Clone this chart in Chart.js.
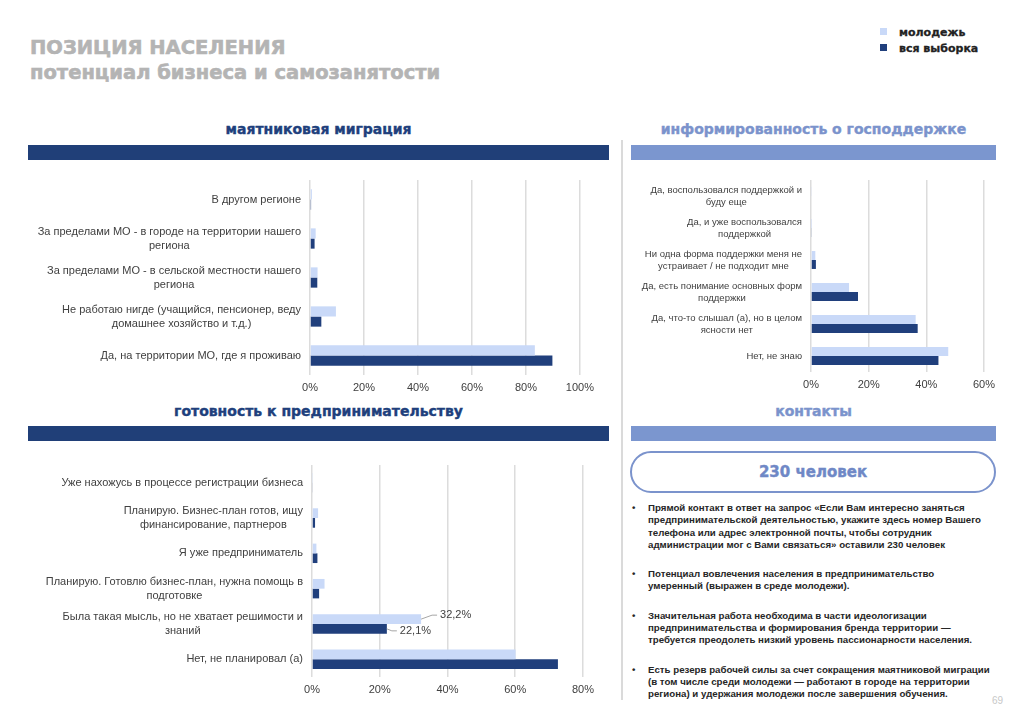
<!DOCTYPE html>
<html>
<head>
<meta charset="utf-8">
<script src="https://cdn.jsdelivr.net/npm/chart.js@4"></script>
<style>
  body { margin: 0; background: #fff; width: 1024px; height: 724px; position: relative; overflow: hidden; font-family: "Liberation Sans", Arial, sans-serif; }
  .abs { position: absolute; }
  .title { left: 30px; font-family: "DejaVu Sans", sans-serif; font-weight: bold; font-size: 19.5px; color: #b4b4b4; white-space: nowrap; -webkit-text-stroke: 0.6px #b4b4b4; }
  .head { font-family: "DejaVu Sans", sans-serif; font-weight: bold; font-size: 14px; text-align: center; white-space: nowrap; -webkit-text-stroke: 0.4px currentColor; }
  .bar { height: 15px; }
  .legend { left: 880px; font-family: "DejaVu Sans", sans-serif; font-weight: bold; font-size: 11px; color: #222; -webkit-text-stroke: 0.3px #222; }
  .legend span { display: inline-block; width: 7px; height: 7px; margin-right: 12px; vertical-align: 1px; }
  .bullets { left: 632px; top: 502px; width: 370px; font-weight: bold; font-size: 9.7px; line-height: 12.3px; color: #262626; }
  .bullets div { position: relative; padding-left: 16px; white-space: nowrap; }
  .bullets div::before { content: "•"; position: absolute; left: 0; top: 0; }
</style>
</head>
<body>
<div class="abs title" style="top:36px">ПОЗИЦИЯ НАСЕЛЕНИЯ</div>
<div class="abs title" style="top:61px">потенциал бизнеса и самозанятости</div>

<div class="abs legend" style="top:26px"><span style="background:#c9d9f8"></span>молодежь</div>
<div class="abs legend" style="top:42px"><span style="background:#203f7c"></span>вся выборка</div>

<div class="abs head" style="left:28px;width:581px;top:121px;color:#203f7c">маятниковая миграция</div>
<div class="abs bar" style="left:28px;width:581px;top:145px;background:#203f78"></div>
<div class="abs head" style="left:631px;width:365px;top:121px;color:#7b93cc">информированность о господдержке</div>
<div class="abs bar" style="left:631px;width:365px;top:145px;background:#7b96cf"></div>

<div class="abs head" style="left:28px;width:581px;top:403px;color:#203f7c">готовность к предпринимательству</div>
<div class="abs bar" style="left:28px;width:581px;top:426px;background:#203f78"></div>
<div class="abs head" style="left:631px;width:365px;top:403px;color:#7b93cc">контакты</div>
<div class="abs bar" style="left:631px;width:365px;top:426px;background:#7b96cf"></div>

<div class="abs" style="left:621px;top:140px;width:2px;height:560px;background:#dadada"></div>

<div class="abs" style="left:630px;top:451px;width:362px;height:38px;border:2px solid #7b93cc;border-radius:21px;text-align:center;line-height:38px;font-family:'DejaVu Sans',sans-serif;font-weight:bold;font-size:15px;color:#6f88c6;-webkit-text-stroke:0.4px #6f88c6">230 человек</div>

<div class="abs bullets">
  <div>Прямой контакт в ответ на запрос «Если Вам интересно заняться<br>предпринимательской деятельностью, укажите здесь номер Вашего<br>телефона или адрес электронной почты, чтобы сотрудник<br>администрации мог с Вами связаться» оставили 230 человек</div>
  <div style="margin-top:17px">Потенциал вовлечения населения в предпринимательство<br>умеренный (выражен в среде молодежи).</div>
  <div style="margin-top:17px">Значительная работа необходима в части идеологизации<br>предпринимательства и формирования бренда территории —<br>требуется преодолеть низкий уровень пассионарности населения.</div>
  <div style="margin-top:17px">Есть резерв рабочей силы за счет сокращения маятниковой миграции<br>(в том числе среди молодежи — работают в городе на территории<br>региона) и удержания молодежи после завершения обучения.</div>
</div>

<div class="abs" style="left:992px;top:695px;font-size:10px;color:#c8c8c8">69</div>

<canvas id="migrationChart" class="abs" width="570" height="230" style="left:30px;top:170px"></canvas>
<canvas id="supportChart" class="abs" width="380" height="227" style="left:630px;top:170px"></canvas>
<canvas id="businessChart" class="abs" width="570" height="247" style="left:30px;top:455px"></canvas>

<script>
const seriesNames = ['молодежь', 'вся выборка'];
const youthColor = '#c9d9f8';
const allColor = '#203f7c';

const migrationLabels = [
    'В другом регионе',
    ['За пределами МО - в городе на территории нашего', 'региона'],
    ['За пределами МО - в сельской местности нашего', 'региона'],
    ['Не работаю нигде (учащийся, пенсионер, веду', 'домашнее хозяйство и т.д.)'],
    'Да, на территории МО, где я проживаю'
];
const migrationYouth = [0.7, 2.1, 2.8, 9.6, 83.3];
const migrationAll = [0.4, 1.7, 2.7, 4.2, 89.8];

const supportLabels = [
    ['Да, воспользовался поддержкой и', 'буду еще'],
    ['Да, и уже воспользовался', 'поддержкой'],
    ['Ни одна форма поддержки меня не', 'устраивает / не подходит мне'],
    ['Да, есть понимание основных форм', 'поддержки'],
    ['Да, что-то слышал (а), но в целом', 'ясности нет'],
    'Нет, не знаю'
];
const supportYouth = [0.2, 0.1, 1.5, 13.2, 36.3, 47.6];
const supportAll = [0, 0.3, 1.7, 16.3, 37.0, 44.2];

const businessLabels = [
    'Уже нахожусь в процессе регистрации бизнеса',
    ['Планирую. Бизнес-план готов, ищу', 'финансирование, партнеров'],
    'Я уже предприниматель',
    ['Планирую. Готовлю бизнес-план, нужна помощь в', 'подготовке'],
    ['Была такая мысль, но не хватает решимости и', 'знаний'],
    'Нет, не планировал (а)'
];
const businessYouth = [0.3, 1.8, 1.3, 3.7, 32.2, 60.1];
const businessAll = [0.2, 0.9, 1.6, 2.1, 22.1, 72.6];
const businessCalloutIndex = 4;

const labelFont = '"Liberation Sans", Arial, sans-serif';

// leader-line labels for the "Была такая мысль" pair
const calloutPlugin = {
    id: 'callout',
    afterDatasetsDraw(chart) {
        const ctx = chart.ctx;
        ctx.save();
        ctx.font = '11px ' + labelFont;
        ctx.fillStyle = '#404040';
        ctx.strokeStyle = '#a6a6a6';
        ctx.lineWidth = 1;
        ctx.textBaseline = 'middle';
        chart.data.datasets.forEach((ds, i) => {
            const bar = chart.getDatasetMeta(i).data[businessCalloutIndex];
            const dy = i === 0 ? -4 : 2;
            const len = i === 0 ? 16 : 10;
            ctx.beginPath();
            ctx.moveTo(bar.x, bar.y);
            ctx.lineTo(bar.x + len - 5, bar.y + dy);
            ctx.lineTo(bar.x + len, bar.y + dy);
            ctx.stroke();
            const txt = ds.data[businessCalloutIndex].toFixed(1).replace('.', ',') + '%';
            ctx.fillText(txt, bar.x + len + 3, bar.y + dy);
        });
        ctx.restore();
    }
};

// category labels: block right-aligned to the axis, lines centred inside the block
function categoryLabelPlugin(size) {
    return {
        id: 'catLabels',
        afterDraw(chart) {
            const ctx = chart.ctx;
            const scale = chart.scales.y;
            const lh = size * 1.27;
            const right = scale.right - 9;
            ctx.save();
            ctx.font = size + 'px ' + labelFont;
            ctx.fillStyle = '#404040';
            ctx.textAlign = 'center';
            ctx.textBaseline = 'middle';
            chart.data.labels.forEach((lab, i) => {
                const lines = Array.isArray(lab) ? lab : [lab];
                const w = Math.max(...lines.map(l => ctx.measureText(l).width));
                const cx = right - w / 2;
                const y0 = scale.getPixelForTick(i) - (lines.length - 1) * lh / 2;
                lines.forEach((l, k) => ctx.fillText(l, cx, y0 + k * lh));
            });
            ctx.restore();
        }
    };
}

function makeChart(el, labels, youth, all, opts) {
    return new Chart(el, {
        type: 'bar',
        data: {
            labels: labels,
            datasets: [
                { label: seriesNames[0], data: youth, backgroundColor: youthColor },
                { label: seriesNames[1], data: all, backgroundColor: allColor }
            ]
        },
        options: {
            indexAxis: 'y',
            responsive: false,
            animation: false,
            categoryPercentage: opts.catPct,
            barPercentage: 1.0,
            layout: { padding: { top: 10, right: opts.padRight, bottom: 0, left: 0 } },
            scales: {
                x: {
                    min: 0,
                    max: opts.max,
                    ticks: {
                        stepSize: 20,
                        padding: 6,
                        color: '#404040',
                        font: { size: 11, family: labelFont },
                        callback: v => v + '%'
                    },
                    grid: { color: '#dcdcdc', lineWidth: 1.5, drawTicks: false },
                    border: { display: false },
                    afterFit: scale => { scale.height = 25; }
                },
                y: {
                    ticks: { display: false },
                    grid: { display: false },
                    border: { display: false },
                    afterFit: scale => { scale.width = opts.axisWidth; }
                }
            },
            plugins: {
                legend: { display: false },
                tooltip: { enabled: false }
            }
        },
        plugins: [categoryLabelPlugin(opts.labelSize)].concat(opts.plugins || [])
    });
}

makeChart(document.getElementById('migrationChart'), migrationLabels, migrationYouth, migrationAll,
    { max: 100, catPct: 0.52, padRight: 19, axisWidth: 280, labelSize: 11 });
makeChart(document.getElementById('supportChart'), supportLabels, supportYouth, supportAll,
    { max: 60, catPct: 0.56, padRight: 26, axisWidth: 181, labelSize: 9.5 });
makeChart(document.getElementById('businessChart'), businessLabels, businessYouth, businessAll,
    { max: 80, catPct: 0.55, padRight: 16, axisWidth: 282, labelSize: 11, plugins: [calloutPlugin] });
</script>
</body>
</html>
